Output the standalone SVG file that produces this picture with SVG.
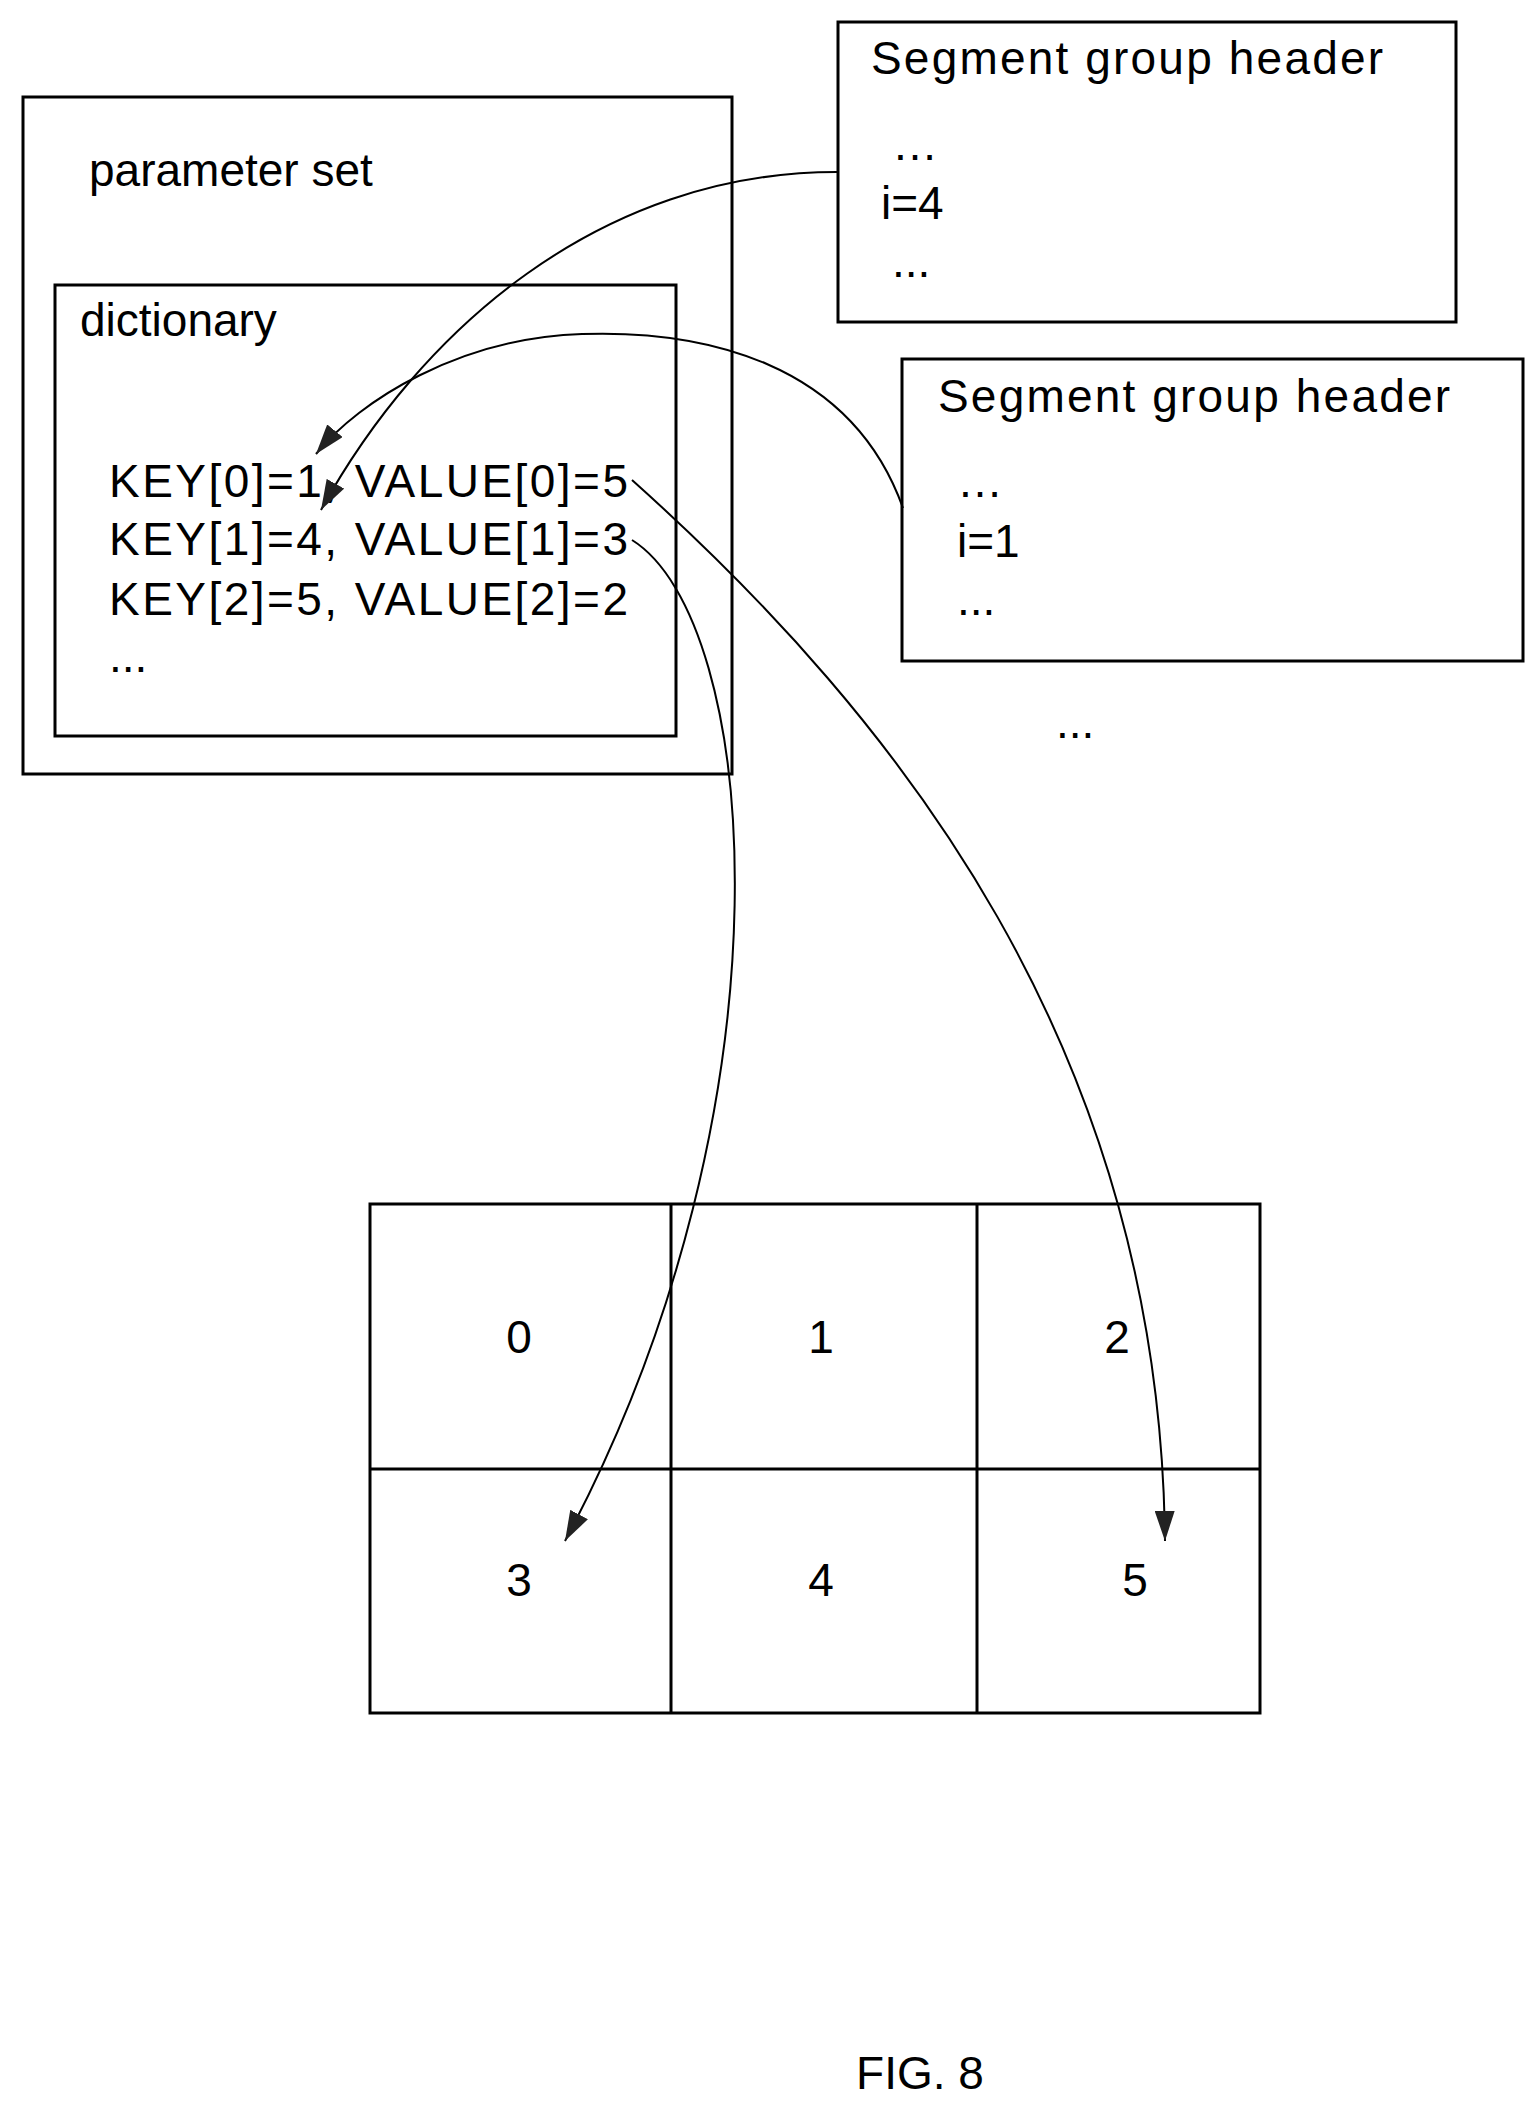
<svg xmlns="http://www.w3.org/2000/svg" width="1540" height="2111" viewBox="0 0 1540 2111">
<style>
.box{fill:none;stroke:#000;stroke-width:3}
.t{font-family:"Liberation Sans",Arial,sans-serif;font-size:46px;fill:#000}
.n{font-family:"Liberation Sans",Arial,sans-serif;font-size:46px;fill:#000;text-anchor:middle}
.c{fill:none;stroke:#000;stroke-width:2}
</style>
<defs>
<marker id="ah" viewBox="0 0 30 20" refX="30" refY="10" markerWidth="30" markerHeight="20" markerUnits="userSpaceOnUse" orient="auto">
<path d="M0,0 L30,10 L0,20 Z" fill="#222"/>
</marker>
</defs>
<rect width="1540" height="2111" fill="#fff"/>
<g id="paramset">
<rect class="box" x="23" y="97" width="709" height="677"/>
<text class="t" x="89" y="186">parameter set</text>
</g>
<g id="dictionary">
<rect class="box" x="55" y="285" width="621" height="451"/>
<text class="t" x="80" y="336">dictionary</text>
<text class="t" x="109" y="497" textLength="519">KEY[0]=1, VALUE[0]=5</text>
<text class="t" x="109" y="555" textLength="519">KEY[1]=4, VALUE[1]=3</text>
<text class="t" x="109" y="615" textLength="519">KEY[2]=5, VALUE[2]=2</text>
<text class="t" x="109" y="672">...</text>
</g>
<g id="header1">
<rect class="box" x="838" y="22" width="618" height="300"/>
<text class="t" x="871" y="74" textLength="512">Segment group header</text>
<text class="t" x="892" y="160">…</text>
<text class="t" x="881" y="219">i=4</text>
<text class="t" x="892" y="277">...</text>
</g>
<g id="header2">
<rect class="box" x="902" y="359" width="621" height="302"/>
<text class="t" x="938" y="412" textLength="512">Segment group header</text>
<text class="t" x="957" y="497">…</text>
<text class="t" x="957" y="557">i=1</text>
<text class="t" x="957" y="615">...</text>
</g>
<g id="more">
<text class="t" x="1056" y="738">...</text>
</g>
<g id="grid">
<rect class="box" x="370" y="1204" width="890" height="509"/>
<line class="box" x1="370" y1="1469" x2="1260" y2="1469"/>
<line class="box" x1="671" y1="1204" x2="671" y2="1713"/>
<line class="box" x1="977" y1="1204" x2="977" y2="1713"/>
<text class="n" x="519" y="1353">0</text>
<text class="n" x="821" y="1353">1</text>
<text class="n" x="1117" y="1353">2</text>
<text class="n" x="519" y="1596">3</text>
<text class="n" x="821" y="1596">4</text>
<text class="n" x="1135" y="1596">5</text>
</g>
<g id="connectors">
<path class="c" marker-end="url(#ah)" d="M837,172 C600,172 420,330 321,510"/>
<path class="c" marker-end="url(#ah)" d="M903,508 C850,360 700,330 582,334 C460,338 360,400 316,454"/>
<path class="c" marker-end="url(#ah)" d="M632,480 C900,720 1160,1050 1165,1541"/>
<path class="c" marker-end="url(#ah)" d="M632,540 C760,620 800,1100 565,1541"/>
</g>
<text class="n" x="920" y="2089" font-size="52">FIG. 8</text>
</svg>
